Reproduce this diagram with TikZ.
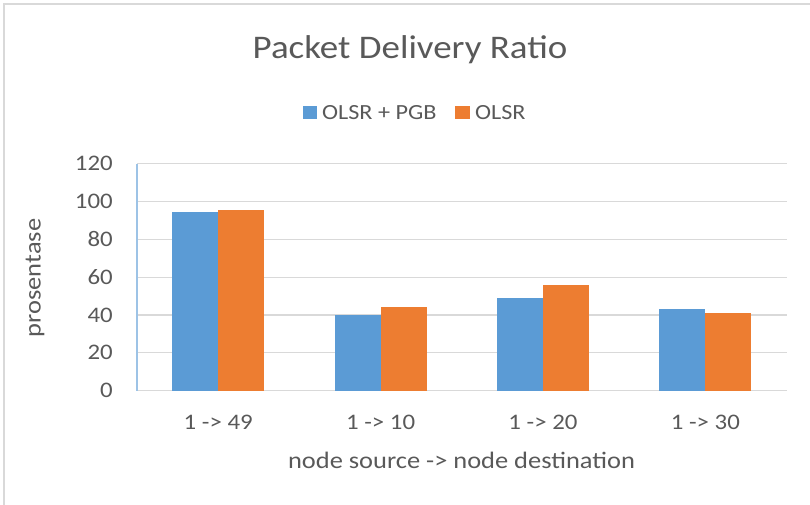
\documentclass[tikz,border=0pt]{standalone}
\usepackage{fontspec}
\setmainfont{Carlito}[FakeStretch=1.12]
\usetikzlibrary{positioning}
\definecolor{serieblu}{HTML}{5B9BD5}
\definecolor{serieara}{HTML}{ED7D31}
\definecolor{grigliagr}{HTML}{D9D9D9}
\definecolor{testogr}{HTML}{595959}
\definecolor{assebl}{HTML}{9DC3E6}

\begin{document}
\begin{tikzpicture}[x=1pt,y=-1pt,
    lbl/.style={text=testogr,inner sep=0pt},
    tickfont/.style={font=\fontsize{22.2}{26}\selectfont},
    legfont/.style={font=\fontsize{21.6}{26}\selectfont},
    assefont/.style={font=\fontsize{23.6}{28}\selectfont}]
    \useasboundingbox (0,0) rectangle (810,505);

    % cornice
    \draw[grigliagr,line width=1.5pt] (4,505) -- (4,4) -- (810,4);

    % titolo
    \node[lbl,anchor=base,font=\fontsize{33}{40}\selectfont] (titolo) at (410,58.3) {Packet Delivery Ratio};

    % legenda
    \fill[serieblu] (303,105.7) rectangle (317,118.7);
    \node[lbl,legfont,anchor=base west] (legA) at (322,119.3) {OLSR + PGB};
    \fill[serieara] (455,105.7) rectangle (469.5,118.7);
    \node[lbl,legfont,anchor=base west] (legB) at (475,119.3) {OLSR};

    % area del grafico: y = valore
    \begin{scope}[shift={(0,390.7)},y=1.8925pt]
        % griglia
        \foreach \v in {0,20,...,120}
            \draw[grigliagr,line width=1.2pt] (137,\v) -- (786.7,\v);
        % asse verticale
        \draw[assebl,line width=1.2pt] (137,0) -- (137,120);
        % etichette asse y
        \foreach \v in {0,20,...,120}
            \node[lbl,tickfont,anchor=east] (ytick\v) at (113,\v) {\v};
        % barre
        \foreach \i/\a/\b in {1/94.5/95.5, 2/40/44, 3/48.9/55.6, 4/43.2/41}{
            \pgfmathsetmacro{\c}{137+162.4*(\i-0.5)}
            \fill[serieblu] (\c-46,0) rectangle (\c,\a);
            \fill[serieara] (\c,0) rectangle (\c+46,\b);
        }
    \end{scope}

    % etichette categorie
    \foreach \i/\t in {1/1 -> 49, 2/1 -> 10, 3/1 -> 20, 4/1 -> 30}{
        \pgfmathsetmacro{\c}{137+162.4*(\i-0.5)}
        \node[lbl,tickfont,anchor=base] (cat\i) at (\c,429.3) {\t};
    }

    % titoli assi
    \node[lbl,assefont,anchor=base] (xtitolo) at (461.5,468) {node source -> node destination};
    \node[lbl,assefont,rotate=90] (ytitolo) at (35,278) {prosentase};
\end{tikzpicture}
\end{document}
